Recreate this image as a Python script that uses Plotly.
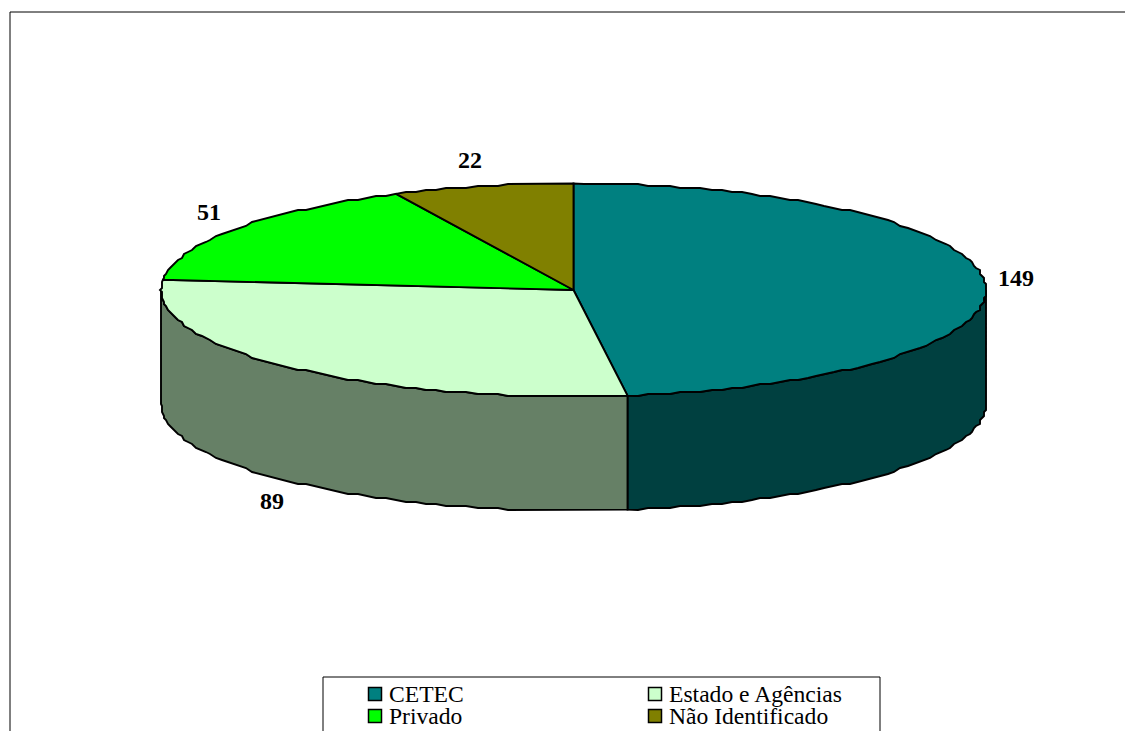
import numpy as np
import plotly.graph_objects as go

categories = ["CETEC", "Estado e Agências", "Privado", "Não Identificado"]
values = [149, 89, 51, 22]
top_colors = ["#008080", "#CCFFCC", "#00FF00", "#808000"]
side_colors = ["#004040", "#668066", "#008000", "#404000"]

# layout constants, in page pixels
W, H = 1125, 731
CX, CY, RX, RY, DEPTH = 573.5, 290.0, 412.5, 106.5, 114.0
GRID = 2.0  # the reference's rim is stepped, as in a low-resolution metafile
STEP = 1.5  # degrees between rim vertices
LABEL_XY = [(1016, 278), (272, 501), (209, 212), (470, 160)]
LEGEND_XY = [(375, 694), (655, 694), (375, 716), (655, 716)]
LINE = dict(color="black", width=1.9)


def rim(a0, a1, dy=0.0):
    inner = np.arange(np.ceil(a0 / STEP + 0.2), np.floor(a1 / STEP - 0.2) + 1) * STEP
    t = np.radians(inner)
    qx = np.round((CX + RX * np.sin(t)) / GRID) * GRID
    qy = np.round((CY - RY * np.cos(t)) / GRID) * GRID
    ends_t = np.radians([a0, a1])
    ex = CX + RX * np.sin(ends_t)
    ey = CY - RY * np.cos(ends_t)
    return np.r_[ex[0], qx, ex[1]], np.r_[ey[0], qy, ey[1]] + dy


shares = np.array(values, dtype=float) / sum(values) * 360
ends = np.cumsum(shares)
starts = ends - shares

fig = go.Figure()

# outer frame and legend box
fig.add_shape(type="rect", x0=10, y0=12, x1=W + 20, y1=H + 20,
              line=dict(color="black", width=1), fillcolor="white", layer="below")
fig.add_shape(type="rect", x0=323, y0=677, x1=880, y1=H + 20,
              line=dict(color="black", width=1), fillcolor="white", layer="below")

# visible side walls (front half of the rim, 90..270 degrees)
for name, a0, a1, col in zip(categories, starts, ends, side_colors):
    lo, hi = max(a0, 90), min(a1, 270)
    if hi <= lo:
        continue
    xt, yt = rim(lo, hi)
    xb, yb = rim(lo, hi, DEPTH)
    fig.add_trace(go.Scatter(x=np.r_[xt, xb[::-1], xt[0]], y=np.r_[yt, yb[::-1], yt[0]],
                             mode="lines", fill="toself", fillcolor=col, line=LINE,
                             name=name, showlegend=False, hoverinfo="name"))

# top wedges
for name, v, a0, a1, col in zip(categories, values, starts, ends, top_colors):
    xr, yr = rim(a0, a1)
    fig.add_trace(go.Scatter(x=np.r_[CX, xr, CX], y=np.r_[CY, yr, CY],
                             mode="lines", fill="toself", fillcolor=col, line=LINE,
                             name=name, text=f"{name}: {v}", showlegend=False,
                             hoverinfo="text"))

# value labels
for v, (lx, ly) in zip(values, LABEL_XY):
    fig.add_annotation(x=lx, y=ly, text=f"<b>{v}</b>", showarrow=False,
                       font=dict(family="Liberation Serif", size=24, color="black"))

# legend
for name, col, (lx, ly) in zip(categories, top_colors, LEGEND_XY):
    fig.add_trace(go.Scatter(x=[lx], y=[ly], mode="markers",
                             marker=dict(symbol="square", size=13, color=col,
                                         line=dict(color="black", width=1.5)),
                             showlegend=False, hoverinfo="skip"))
    fig.add_annotation(x=lx + 12, y=ly, text=name, showarrow=False, xanchor="left",
                       font=dict(family="Liberation Serif", size=23.6, color="black"))

fig.update_xaxes(range=[0, W], visible=False, fixedrange=True)
fig.update_yaxes(range=[H, 0], visible=False, fixedrange=True)
fig.update_layout(width=W, height=H, margin=dict(l=0, r=0, t=0, b=0),
                  paper_bgcolor="white", plot_bgcolor="white", showlegend=False)

fig.write_html("out.html", config={"displayModeBar": False},
               post_script="document.body.style.margin='0';document.documentElement.style.overflow='hidden';")
